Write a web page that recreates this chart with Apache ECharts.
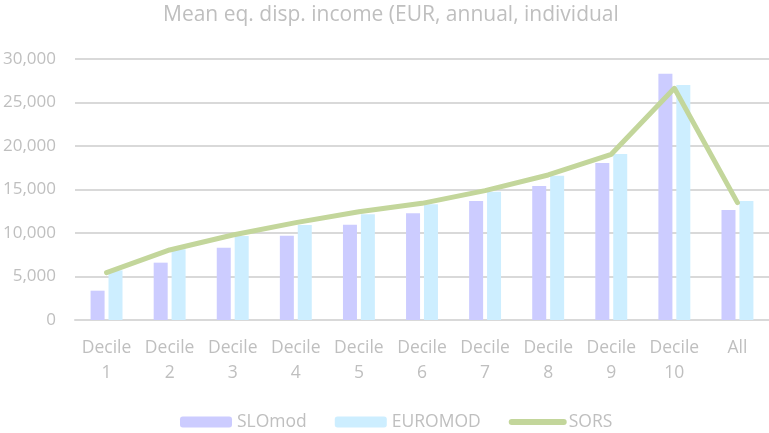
<!DOCTYPE html>
<html>
<head>
<meta charset="utf-8">
<script src="https://cdn.jsdelivr.net/npm/echarts@6/dist/echarts.min.js"></script>
<style>
  html, body { margin: 0; padding: 0; background: #fff; }
  #chart { width: 769px; height: 433px; }
</style>
</head>
<body>
<div id="chart"></div>
<script>
// values
let categories = ['Decile\n1', 'Decile\n2', 'Decile\n3', 'Decile\n4', 'Decile\n5',
  'Decile\n6', 'Decile\n7', 'Decile\n8', 'Decile\n9', 'Decile\n10', 'All']
let sloMod = [3370, 6590, 8310, 9690, 10960, 12260, 13680, 15400, 18050, 28310, 12640]
let euroMod = [5700, 8130, 9650, 10920, 12150, 13300, 14750, 16590, 19080, 27010, 13680]
let sors = [5440, 8050, 9770, 11190, 12450, 13410, 14870, 16670, 19040, 26630, 13490]

let fontName = '"Open Sans", "Noto Sans", sans-serif'
let textGrey = '#bfbfbf'
let sorsColor = '#c3d69b'

let chartDom = document.getElementById('chart')
let myChart = echarts.init(chartDom)
let option = {
  animation: false,
  title: {
    text: 'Mean eq. disp. income (EUR, annual, individual',
    left: 158,
    top: 0,
    textStyle: {
      color: textGrey,
      fontFamily: fontName,
      fontSize: 21,
      fontWeight: 'normal'
    }
  },
  legend: {
    top: 408,
    left: 175,
    itemWidth: 52,
    itemHeight: 11,
    itemGap: 28,
    textStyle: {
      color: textGrey,
      fontFamily: fontName,
      fontSize: 17.5
    },
    data: [
      'SLOmod',
      'EUROMOD',
      {
        name: 'SORS',
        itemStyle: {opacity: 0},
        lineStyle: {width: 6, cap: 'round', color: sorsColor}
      }
    ]
  },
  grid: {
    left: 75,
    right: 0,
    top: 59,
    bottom: 113
  },
  xAxis: {
    type: 'category',
    data: categories,
    axisTick: {show: false},
    axisLine: {lineStyle: {color: '#d9d9d9', width: 2}},
    axisLabel: {
      color: textGrey,
      fontFamily: fontName,
      fontSize: 17.5,
      lineHeight: 25,
      margin: 16,
      interval: 0
    }
  },
  yAxis: {
    type: 'value',
    min: 0,
    max: 30000,
    interval: 5000,
    axisLine: {show: false},
    axisTick: {show: false},
    splitLine: {lineStyle: {color: '#d9d9d9', width: 2}},
    axisLabel: {
      color: textGrey,
      fontFamily: fontName,
      fontSize: 17,
      margin: 19,
      formatter: function (value) {
        // show tick with comma
        return value.toLocaleString('en-US')
      }
    }
  },
  series: [
    {
      name: 'SLOmod',
      type: 'bar',
      data: sloMod,
      barWidth: 14,
      barGap: '28%',
      itemStyle: {color: '#ccccff'}
    },
    {
      name: 'EUROMOD',
      type: 'bar',
      data: euroMod,
      barWidth: 14,
      barGap: '28%',
      itemStyle: {color: '#cdeeff'}
    },
    {
      name: 'SORS',
      type: 'line',
      data: sors,
      symbol: 'none',
      lineStyle: {color: sorsColor, width: 5, cap: 'round', join: 'round'},
      itemStyle: {color: sorsColor}
    }
  ]
}
myChart.setOption(option, true)
</script>
</body>
</html>
